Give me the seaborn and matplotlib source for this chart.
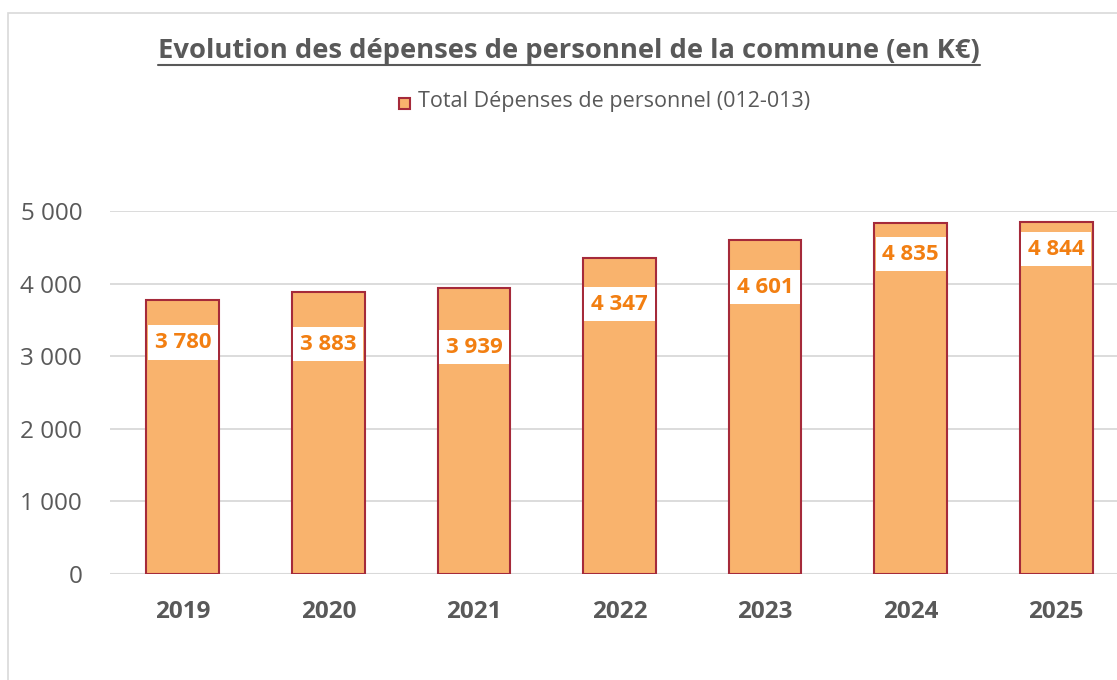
import pandas as pd
import matplotlib.pyplot as plt
import seaborn as sns
from matplotlib.patches import Rectangle
from matplotlib.lines import Line2D

# Données (en K€)
annees = ['2019', '2020', '2021', '2022', '2023', '2024', '2025']
depenses = [3780, 3883, 3939, 4347, 4601, 4835, 4844]
# hauteur des étiquettes (placées à la main dans l'original)
pos_etiquettes = [3190, 3165, 3125, 3715, 3950, 4405, 4475]

TITRE = 'Evolution des dépenses de personnel de la commune (en K€)'
LEGENDE = 'Total Dépenses de personnel (012-013)'

FILL = '#F9B36D'
EDGE = '#A52A3A'
ORANGE = '#F27F12'
GRIS = '#595959'

sns.set_theme(style='white')
plt.rcParams['font.family'] = ['Open Sans', 'DejaVu Sans']

W, H = 1117, 680
fig = plt.figure(figsize=(W / 100, H / 100), dpi=100)
ax = fig.add_axes([110 / W, 106 / H, 1019 / W, 363 / H])

df = pd.DataFrame({'annee': annees, 'depenses': depenses})
sns.barplot(data=df, x='annee', y='depenses', color=FILL, width=0.5,
            edgecolor=EDGE, linewidth=1.5, saturation=1, ax=ax, zorder=3)

ax.set_xlim(-0.5, 6.5)
ax.set_ylim(0, 5000)
ax.set_yticks([0, 1000, 2000, 3000, 4000, 5000])
ax.set_yticklabels(['0', '1 000', '2 000', '3 000', '4 000', '5 000'])
ax.grid(axis='y', color='#D9D9D9', linewidth=1.3, zorder=0)
ax.set_axisbelow(True)
for s in ['top', 'right', 'left', 'bottom']:
    ax.spines[s].set_visible(False)
ax.axhline(0, color='#D9D9D9', linewidth=1.5, zorder=1)
ax.set_xlabel('')
ax.set_ylabel('')
ax.tick_params(axis='y', length=0, pad=20, labelsize=17.5, labelcolor=GRIS)
ax.tick_params(axis='x', length=0, pad=19, labelsize=17.5, labelcolor=GRIS)
for t in ax.get_xticklabels():
    t.set_fontweight('bold')

# étiquettes de valeurs
for i, (v, y) in enumerate(zip(depenses, pos_etiquettes)):
    txt = f'{v:,}'.replace(',', ' ')
    ax.text(i, y, txt, ha='center', va='center', fontsize=16,
            fontweight='bold', color=ORANGE, zorder=5,
            bbox=dict(boxstyle='square,pad=0.3', fc='white', ec='none'))

# titre souligné
titre = fig.text(569 / W, 1 - 51 / H, TITRE, ha='center', va='center',
                 fontsize=19.7, fontweight='bold', color=GRIS)

# légende
fig.patches.append(Rectangle((399 / W, 1 - 109 / H), 11 / W, 11 / H,
                             transform=fig.transFigure, fc=FILL, ec=EDGE,
                             lw=1.5, figure=fig))
fig.text(418 / W, 1 - 102 / H, LEGENDE, ha='left', va='center',
         fontsize=15.5, color=GRIS)

# cadre du graphique
fig.patches.append(Rectangle((8 / W, -0.1), 1.2, 1 - 13 / H + 0.1,
                             transform=fig.transFigure, fc='none',
                             ec='#D9D9D9', lw=1.2, figure=fig))

fig.canvas.draw()
bb = titre.get_window_extent()
y_line = bb.y0 - 1
fig.lines.append(Line2D([bb.x0 / W, bb.x1 / W], [y_line / H, y_line / H],
                        transform=fig.transFigure, color=GRIS, lw=1.5))

plt.savefig('out.png', dpi=100)
